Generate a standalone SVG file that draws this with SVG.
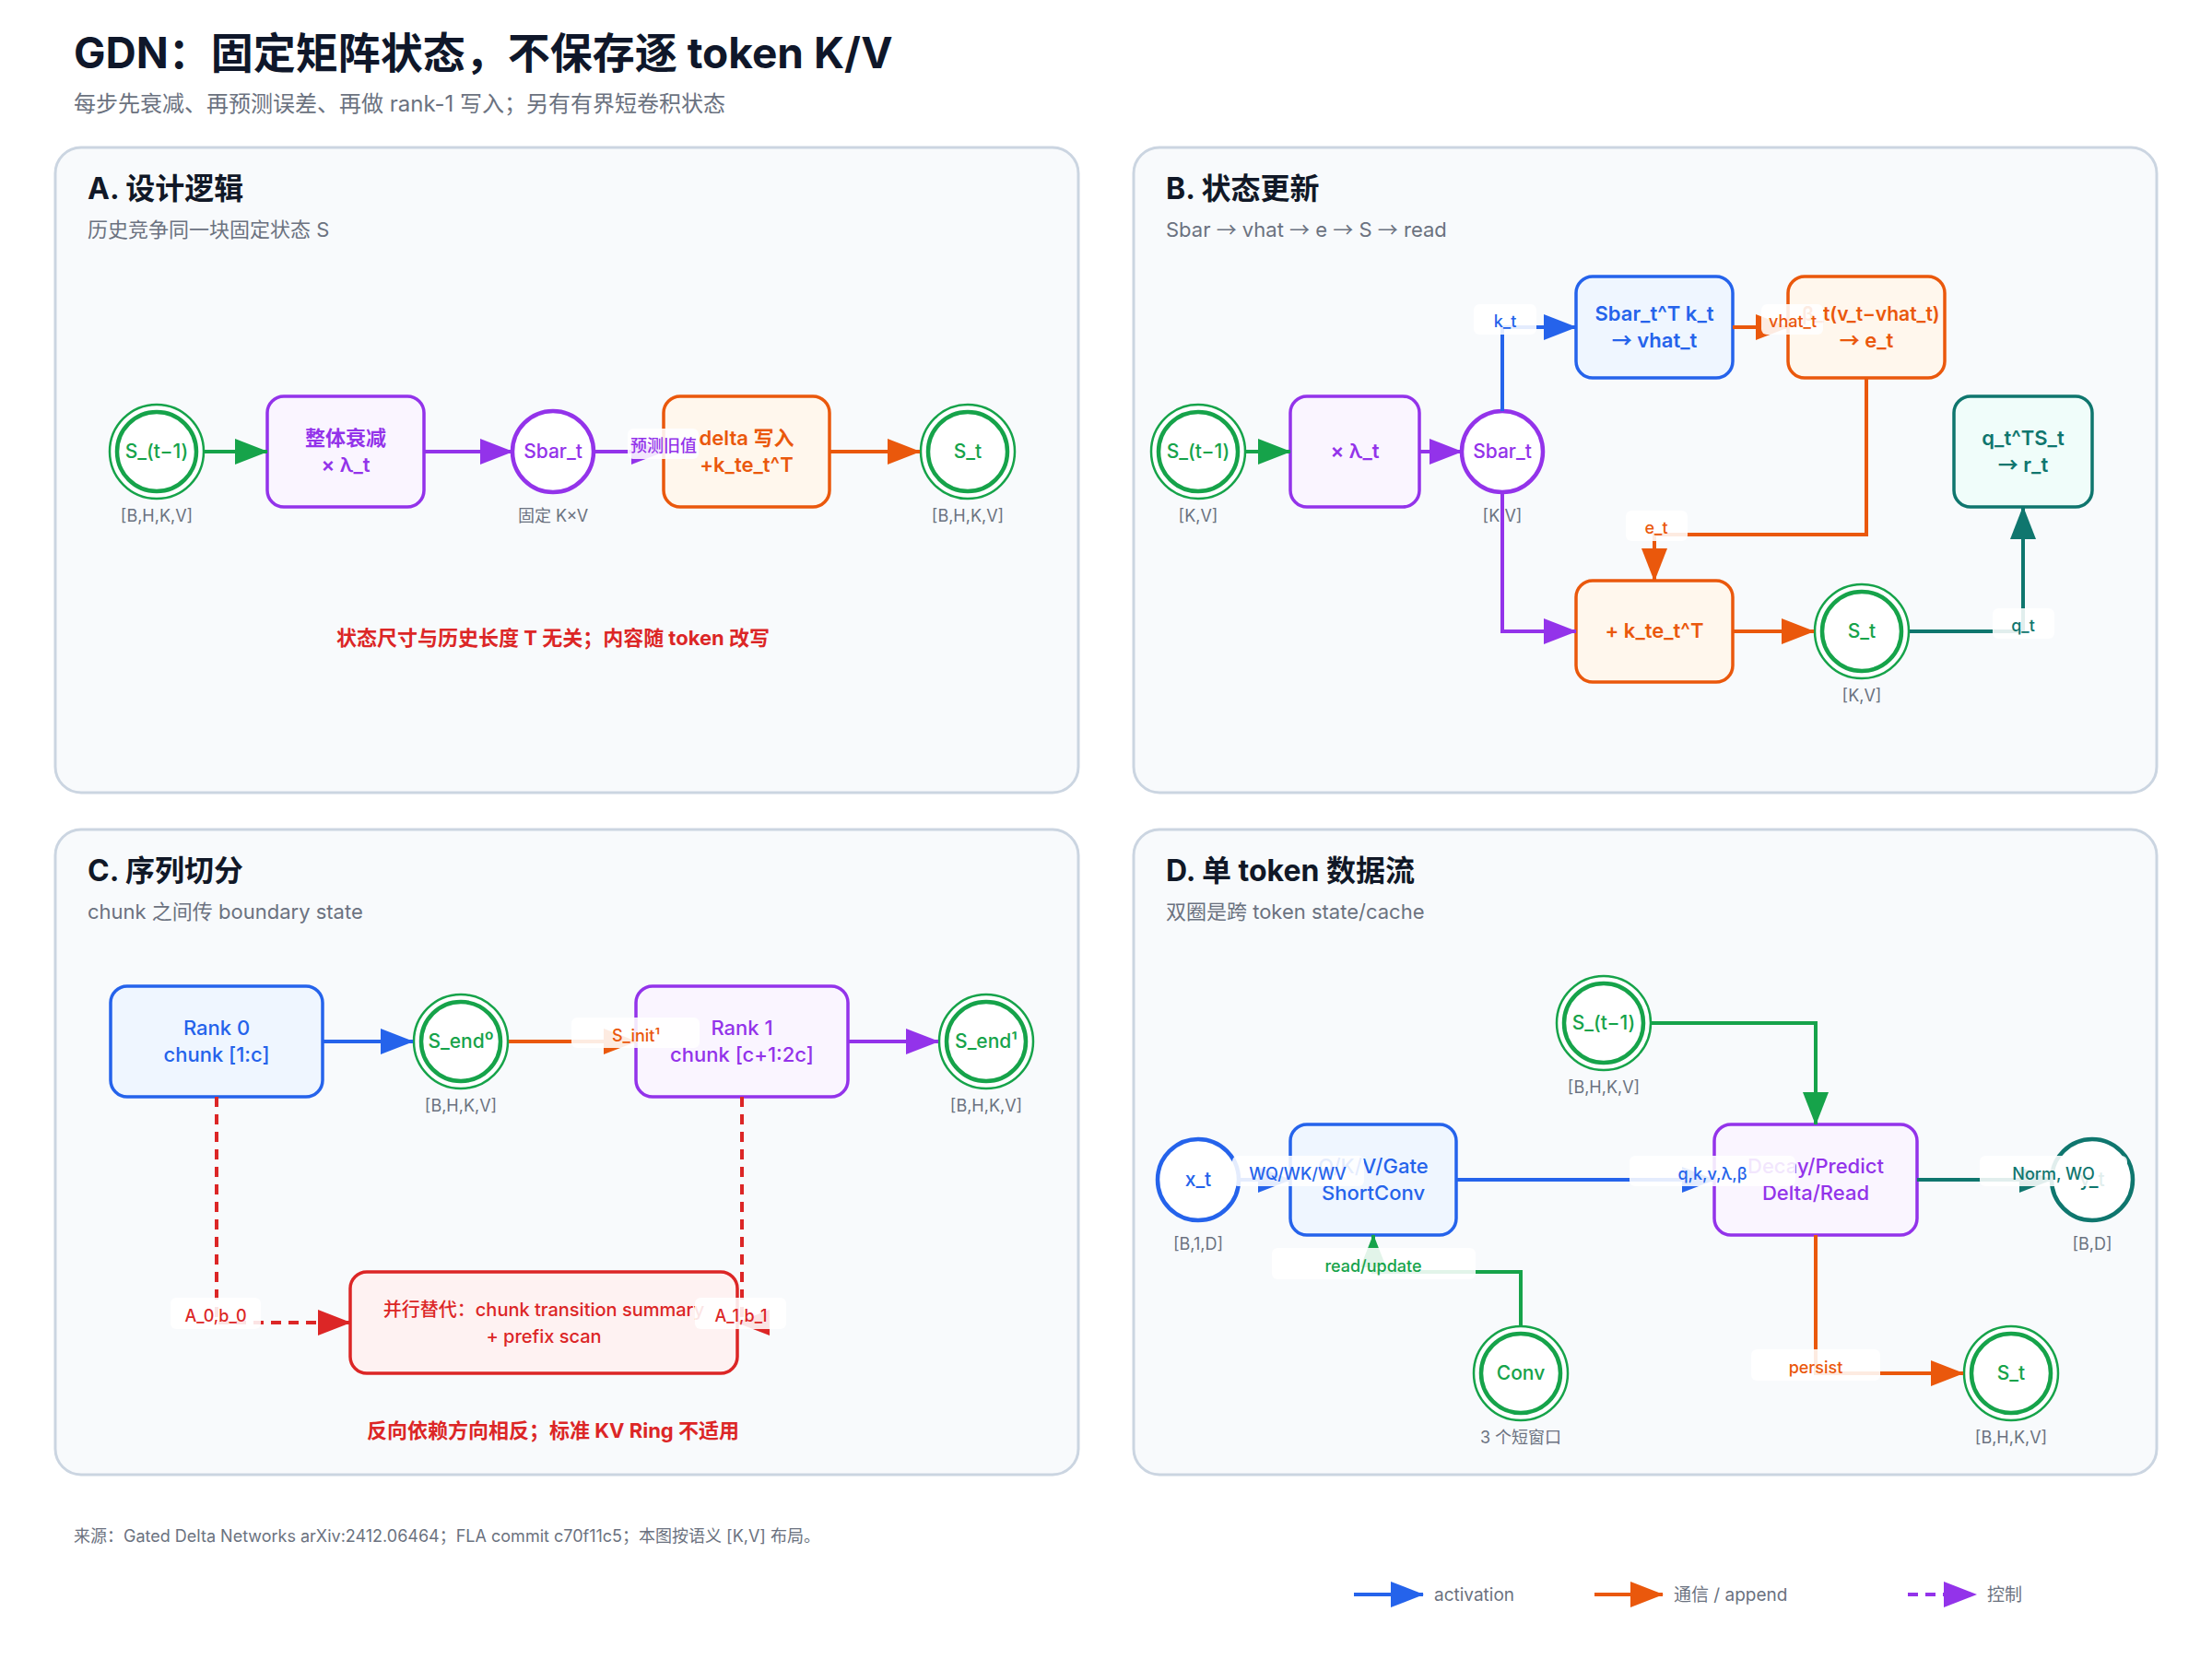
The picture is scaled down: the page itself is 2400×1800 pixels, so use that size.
<svg xmlns="http://www.w3.org/2000/svg" width="2400" height="1800" viewBox="0 0 2400 1800">
<defs>
<style>
text{font-family:Inter,"Noto Sans","Noto Sans CJK SC",sans-serif}
.cjk{font-family:"Noto Sans CJK SC",sans-serif}
.title{font-size:46px;font-weight:700;fill:#0f172a}
.sub{font-size:24px;fill:#6b7280}
.panel{fill:#f8fafc;stroke:#cbd5e1;stroke-width:3}
.ptitle{font-size:32px;font-weight:700;fill:#111827}
.psub{font-size:22px;fill:#6b7280}
.nt{font-size:21px;font-weight:500;text-anchor:middle}
.bt{font-size:22px;font-weight:600;text-anchor:middle}
.dim{font-size:18px;fill:#6b7280;text-anchor:middle}
.cap{font-size:22px;font-weight:700;fill:#dc2626;text-anchor:middle}
.lbl{fill:#ffffff;fill-opacity:0.88}
.lt{font-size:18px;font-weight:500;text-anchor:middle}
.e{fill:none;stroke-width:4}
.ring{fill:#ffffff;stroke-width:2.5}
.core{fill:#ffffff;stroke-width:4.5}
.g{stroke:#16a34a}.gf{fill:#16a34a}
.p{stroke:#9333ea}.pf{fill:#9333ea}
.o{stroke:#ea580c}.of{fill:#ea580c}
.b{stroke:#2563eb}.bf{fill:#2563eb}
.t{stroke:#0f766e}.tf{fill:#0f766e}
.r{stroke:#dc2626}.rf{fill:#dc2626}
.boxb{fill:#eff6ff;stroke:#2563eb;stroke-width:3.5}
.boxp{fill:#faf5ff;stroke:#9333ea;stroke-width:3.5}
.boxo{fill:#fff7ed;stroke:#ea580c;stroke-width:3.5}
.boxt{fill:#f0fdfa;stroke:#0f766e;stroke-width:3.5}
.boxr{fill:#fef2f2;stroke:#dc2626;stroke-width:3.5}
.dash{stroke-dasharray:11 8}
.legt{font-size:19px;fill:#6b7280}
.foot{font-size:18px;fill:#6b7280}
</style>
<marker id="ag" markerUnits="userSpaceOnUse" markerWidth="36" markerHeight="28" refX="35" refY="14" orient="auto"><path d="M0,0 L36,14 L0,28 Z" fill="#16a34a"/></marker>
<marker id="ap" markerUnits="userSpaceOnUse" markerWidth="36" markerHeight="28" refX="35" refY="14" orient="auto"><path d="M0,0 L36,14 L0,28 Z" fill="#9333ea"/></marker>
<marker id="ao" markerUnits="userSpaceOnUse" markerWidth="36" markerHeight="28" refX="35" refY="14" orient="auto"><path d="M0,0 L36,14 L0,28 Z" fill="#ea580c"/></marker>
<marker id="ab" markerUnits="userSpaceOnUse" markerWidth="36" markerHeight="28" refX="35" refY="14" orient="auto"><path d="M0,0 L36,14 L0,28 Z" fill="#2563eb"/></marker>
<marker id="at" markerUnits="userSpaceOnUse" markerWidth="36" markerHeight="28" refX="35" refY="14" orient="auto"><path d="M0,0 L36,14 L0,28 Z" fill="#0f766e"/></marker>
<marker id="ar" markerUnits="userSpaceOnUse" markerWidth="36" markerHeight="28" refX="35" refY="14" orient="auto"><path d="M0,0 L36,14 L0,28 Z" fill="#dc2626"/></marker>
</defs>
<rect width="2400" height="1800" fill="#ffffff"/>
<text class="title" x="80" y="74">GDN：固定矩阵状态，不保存逐 token K/V</text>
<text class="sub" x="80" y="121">每步先衰减、再预测误差、再做 rank-1 写入；另有有界短卷积状态</text>

<g id="panels">
<rect class="panel" x="60" y="160" width="1110" height="700" rx="28"/>
<rect class="panel" x="1230" y="160" width="1110" height="700" rx="28"/>
<rect class="panel" x="60" y="900" width="1110" height="700" rx="28"/>
<rect class="panel" x="1230" y="900" width="1110" height="700" rx="28"/>
<text class="ptitle" x="95" y="216">A. 设计逻辑</text>
<text class="psub" x="95" y="257">历史竞争同一块固定状态 S</text>
<text class="ptitle" x="1265" y="216">B. 状态更新</text>
<text class="psub" x="1265" y="257">Sbar <tspan class="cjk">→</tspan> vhat <tspan class="cjk">→</tspan> e <tspan class="cjk">→</tspan> S <tspan class="cjk">→</tspan> read</text>
<text class="ptitle" x="95" y="956">C. 序列切分</text>
<text class="psub" x="95" y="997">chunk 之间传 boundary state</text>
<text class="ptitle" x="1265" y="956">D. 单 token 数据流</text>
<text class="psub" x="1265" y="997">双圈是跨 token state/cache</text>
<text class="cap" x="600" y="700">状态尺寸与历史长度 T 无关；内容随 token 改写</text>
<text class="cap" x="600" y="1560">反向依赖方向相反；标准 KV Ring 不适用</text>
</g>

<!-- Panel A nodes -->
<g id="A_s_prev"><circle class="ring g" cx="170" cy="490" r="51"/><circle class="core g" cx="170" cy="490" r="43"/><text class="nt gf" x="170" y="497">S_(t−1)</text><text class="dim" x="170" y="566">[B,H,K,V]</text></g>
<g id="A_decay"><rect class="boxp" x="290" y="430" width="170" height="120" rx="18"/><text class="bt pf" x="375" y="483">整体衰减</text><text class="bt pf" x="375" y="512">× λ_t</text></g>
<g id="A_sbar"><circle cx="600" cy="490" r="44" fill="#ffffff" stroke="#9333ea" stroke-width="4.5"/><text class="nt pf" x="600" y="497">Sbar_t</text><text class="dim" x="600" y="566">固定 K×V</text></g>
<g id="A_delta"><rect class="boxo" x="720" y="430" width="180" height="120" rx="18"/><text class="bt of" x="810" y="483">delta 写入</text><text class="bt of" x="810" y="512">+k_te_t^T</text></g>
<g id="A_s_t"><circle class="ring g" cx="1050" cy="490" r="51"/><circle class="core g" cx="1050" cy="490" r="43"/><text class="nt gf" x="1050" y="497">S_t</text><text class="dim" x="1050" y="566">[B,H,K,V]</text></g>

<!-- Panel B nodes -->
<g id="B_s_prev"><circle class="ring g" cx="1300" cy="490" r="51"/><circle class="core g" cx="1300" cy="490" r="43"/><text class="nt gf" x="1300" y="497">S_(t−1)</text><text class="dim" x="1300" y="566">[K,V]</text></g>
<g id="B_decay"><rect class="boxp" x="1400" y="430" width="140" height="120" rx="18"/><text class="bt pf" x="1470" y="497">× λ_t</text></g>
<g id="B_sbar"><circle cx="1630" cy="490" r="44" fill="#ffffff" stroke="#9333ea" stroke-width="4.5"/><text class="nt pf" x="1630" y="497">Sbar_t</text><text class="dim" x="1630" y="566">[K,V]</text></g>
<g id="B_pred"><rect class="boxb" x="1710" y="300" width="170" height="110" rx="18"/><text class="bt bf" x="1795" y="348">Sbar_t^T k_t</text><text class="bt bf" x="1795" y="377"><tspan class="cjk">→</tspan> vhat_t</text></g>
<g id="B_err"><rect class="boxo" x="1940" y="300" width="170" height="110" rx="18"/><text class="bt of" x="2030" y="348" style="font-size:21px">β_t(v_t−vhat_t)</text><text class="bt of" x="2025" y="377"><tspan class="cjk">→</tspan> e_t</text></g>
<g id="B_read"><rect class="boxt" x="2120" y="430" width="150" height="120" rx="18"/><text class="bt tf" x="2195" y="483">q_t^TS_t</text><text class="bt tf" x="2195" y="512"><tspan class="cjk">→</tspan> r_t</text></g>
<g id="B_write"><rect class="boxo" x="1710" y="630" width="170" height="110" rx="18"/><text class="bt of" x="1795" y="692">+ k_te_t^T</text></g>
<g id="B_s_t"><circle class="ring g" cx="2020" cy="685" r="51"/><circle class="core g" cx="2020" cy="685" r="43"/><text class="nt gf" x="2020" y="692">S_t</text><text class="dim" x="2020" y="761">[K,V]</text></g>

<!-- Panel C nodes -->
<g id="C_rank0"><rect class="boxb" x="120" y="1070" width="230" height="120" rx="18"/><text class="bt bf" x="235" y="1123" style="font-weight:500">Rank 0</text><text class="bt bf" x="235" y="1152" style="font-weight:500">chunk [1:c]</text></g>
<g id="C_send0"><circle class="ring g" cx="500" cy="1130" r="51"/><circle class="core g" cx="500" cy="1130" r="43"/><text class="nt gf" x="500" y="1137">S_end⁰</text><text class="dim" x="500" y="1206">[B,H,K,V]</text></g>
<g id="C_rank1"><rect class="boxp" x="690" y="1070" width="230" height="120" rx="18"/><text class="bt pf" x="805" y="1123" style="font-weight:500">Rank 1</text><text class="bt pf" x="805" y="1152" style="font-weight:500">chunk [c+1:2c]</text></g>
<g id="C_send1"><circle class="ring g" cx="1070" cy="1130" r="51"/><circle class="core g" cx="1070" cy="1130" r="43"/><text class="nt gf" x="1070" y="1137">S_end¹</text><text class="dim" x="1070" y="1206">[B,H,K,V]</text></g>
<g id="C_scan"><rect class="boxr" x="380" y="1380" width="420" height="110" rx="18"/><text class="bt rf" x="590" y="1428" style="font-size:20px;font-weight:500">并行替代：chunk transition summary</text><text class="bt rf" x="590" y="1457" style="font-size:20px;font-weight:500">+ prefix scan</text></g>

<!-- Panel D nodes -->
<g id="D_s_prev"><circle class="ring g" cx="1740" cy="1110" r="51"/><circle class="core g" cx="1740" cy="1110" r="43"/><text class="nt gf" x="1740" y="1117">S_(t−1)</text><text class="dim" x="1740" y="1186">[B,H,K,V]</text></g>
<g id="D_x"><circle cx="1300" cy="1280" r="44" fill="#ffffff" stroke="#2563eb" stroke-width="4.5"/><text class="nt bf" x="1300" y="1287">x_t</text><text class="dim" x="1300" y="1356">[B,1,D]</text></g>
<g id="D_conv_box"><rect class="boxb" x="1400" y="1220" width="180" height="120" rx="18"/><text class="bt bf" x="1490" y="1273" style="font-weight:500">Q/K/V/Gate</text><text class="bt bf" x="1490" y="1302" style="font-weight:500">ShortConv</text></g>
<g id="D_core"><rect class="boxp" x="1860" y="1220" width="220" height="120" rx="18"/><text class="bt pf" x="1970" y="1273" style="font-weight:500">Decay/Predict</text><text class="bt pf" x="1970" y="1302" style="font-weight:500">Delta/Read</text></g>
<g id="D_y"><circle cx="2270" cy="1280" r="44" fill="#ffffff" stroke="#0f766e" stroke-width="4.5"/><text class="nt tf" x="2270" y="1287">y_t</text><text class="dim" x="2270" y="1356">[B,D]</text></g>
<g id="D_conv"><circle class="ring g" cx="1650" cy="1490" r="51"/><circle class="core g" cx="1650" cy="1490" r="43"/><text class="nt gf" x="1650" y="1497">Conv</text><text class="dim" x="1650" y="1566">3 个短窗口</text></g>
<g id="D_s_t"><circle class="ring g" cx="2182" cy="1490" r="51"/><circle class="core g" cx="2182" cy="1490" r="43"/><text class="nt gf" x="2182" y="1497">S_t</text><text class="dim" x="2182" y="1566">[B,H,K,V]</text></g>

<g id="connectors">
<path class="e g" d="M222,490 H290" marker-end="url(#ag)"/>
<path class="e p" d="M460,490 H556" marker-end="url(#ap)"/>
<path class="e p" d="M644,490 H720" marker-end="url(#ap)"/>
<path class="e o" d="M900,490 H998" marker-end="url(#ao)"/>

<path class="e g" d="M1352,490 H1400" marker-end="url(#ag)"/>
<path class="e p" d="M1540,490 H1586" marker-end="url(#ap)"/>
<path class="e b" d="M1630,446 V355 H1710" marker-end="url(#ab)"/>
<path class="e o" d="M1880,355 H1940" marker-end="url(#ao)"/>
<path class="e o" d="M2025,410 V580 H1795 V630" marker-end="url(#ao)"/>
<path class="e p" d="M1630,534 V685 H1710" marker-end="url(#ap)"/>
<path class="e o" d="M1880,685 H1968" marker-end="url(#ao)"/>
<path class="e t" d="M2072,685 H2195 V550" marker-end="url(#at)"/>

<path class="e b" d="M350,1130 H448" marker-end="url(#ab)"/>
<path class="e o" d="M552,1130 H690" marker-end="url(#ao)"/>
<path class="e p" d="M920,1130 H1018" marker-end="url(#ap)"/>
<path class="e r dash" d="M235,1190 V1435 H380" marker-end="url(#ar)"/>
<path class="e r dash" d="M805,1190 V1435 H800" marker-end="url(#ar)"/>

<path class="e b" d="M1344,1280 H1400" marker-end="url(#ab)"/>
<path class="e b" d="M1580,1280 H1860" marker-end="url(#ab)"/>
<path class="e t" d="M2080,1280 H2226" marker-end="url(#at)"/>
<path class="e g" d="M1792,1110 H1970 V1220" marker-end="url(#ag)"/>
<path class="e g" d="M1650,1438 V1380 H1490 V1340" marker-end="url(#ag)"/>
<path class="e o" d="M1970,1340 V1490 H2130" marker-end="url(#ao)"/>
</g>

<g id="edge-labels">
<rect class="lbl" x="681" y="465" width="77" height="33" rx="6"/><text class="lt pf" x="720" y="490">预测旧值</text>
<rect class="lbl" x="1599" y="330" width="68" height="33" rx="6"/><text class="lt bf" x="1633" y="355">k_t</text>
<rect class="lbl" x="1911" y="330" width="67" height="33" rx="6"/><text class="lt of" x="1945" y="355">vhat_t</text>
<rect class="lbl" x="1764" y="554" width="67" height="33" rx="6"/><text class="lt of" x="1797" y="579">e_t</text>
<rect class="lbl" x="2162" y="660" width="67" height="33" rx="6"/><text class="lt tf" x="2195" y="685">q_t</text>
<rect class="lbl" x="620" y="1104" width="139" height="33" rx="6"/><text class="lt of" x="690" y="1130">S_init¹</text>
<rect class="lbl" x="185" y="1408" width="98" height="34" rx="6"/><text class="lt rf" x="234" y="1434">A_0,b_0</text>
<rect class="lbl" x="754" y="1408" width="99" height="34" rx="6"/><text class="lt rf" x="804" y="1434">A_1,b_1</text>
<rect class="lbl" x="1337" y="1254" width="143" height="33" rx="6"/><text class="lt bf" x="1408" y="1280">WQ/WK/WV</text>
<rect class="lbl" x="1768" y="1254" width="180" height="33" rx="6"/><text class="lt bf" x="1858" y="1280">q,k,v,λ,β</text>
<rect class="lbl" x="2148" y="1254" width="160" height="33" rx="6"/><text class="lt tf" x="2228" y="1280">Norm, WO</text>
<rect class="lbl" x="1380" y="1354" width="221" height="34" rx="6"/><text class="lt gf" x="1490" y="1380">read/update</text>
<rect class="lbl" x="1900" y="1464" width="140" height="34" rx="6"/><text class="lt of" x="1970" y="1490">persist</text>
</g>

<text class="foot" x="80" y="1673">来源：Gated Delta Networks arXiv:2412.06464；FLA commit c70f11c5；本图按语义 [K,V] 布局。</text>

<g id="legend">
<path class="e b" d="M1469,1730 H1544" marker-end="url(#ab)"/><text class="legt" x="1556" y="1737">activation</text>
<path class="e o" d="M1730,1730 H1804" marker-end="url(#ao)"/><text class="legt" x="1816" y="1737">通信 / append</text>
<path class="e p dash" d="M2070,1730 H2144" marker-end="url(#ap)"/><text class="legt" x="2156" y="1737">控制</text>
</g>
</svg>
